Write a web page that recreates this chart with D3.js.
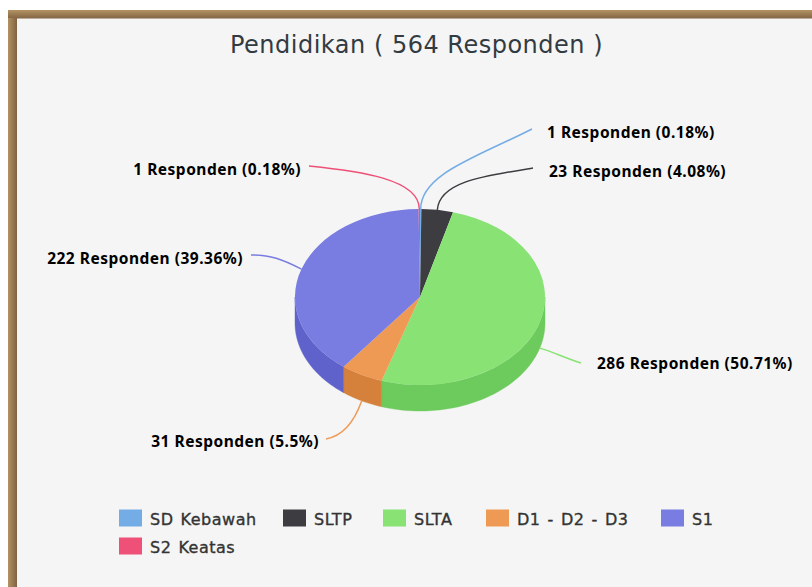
<!DOCTYPE html>
<html><head><meta charset="utf-8">
<script src="https://cdnjs.cloudflare.com/ajax/libs/d3/7.8.5/d3.min.js"></script>
<style>html,body{margin:0;padding:0;background:#fff;overflow:hidden}svg{display:block}</style>
</head><body><svg id="c" width="812" height="587"></svg>
<script>
const categories=["SD Kebawah","SLTP","SLTA","D1 - D2 - D3","S1","S2 Keatas"];
const values=[1,23,286,31,222,1];
const percents=["0.18","4.08","50.71","5.5","39.36","0.18"];
const colors=["#74ace6","#3c3c41","#88e274","#ee9a55","#797ce0","#ee5078"];
const sideColors=["#6a9fd4","#36363a","#6ccb5c","#d5813b","#5f62cb","#d64568"];
const titleText="Pendidikan ( 564 Responden )";
// layout only: label end points and legend cells
const labelLayout=[
 {x:532,y:129,tx:547,ty:138,a:"start",c1:[0,-35],c2:[-55,28]},
 {x:533,y:168,tx:549,ty:177,a:"start",c1:[2,-28],c2:[-50,8]},
 {x:581,y:363,tx:597,ty:369,a:"start",c1:[14,4],c2:[-14,-4]},
 {x:326,y:439,tx:319,ty:447,a:"end",c1:[-10,28],c2:[12,-2]},
 {x:251,y:255,tx:243,ty:264,a:"end",c1:[-20,-10],c2:[20,0]},
 {x:309,y:166,tx:301,ty:175,a:"end",c1:[0,-30],c2:[50,5]}
];
const legendLayout=[[119,509],[283,509],[383,509],[486,509],[661,509],[119,537]];
const cx=420,cy=297,rx=125,ry=88,depth=26;

const svg=d3.select("#c");
const defs=svg.append("defs");
const g=defs.append("linearGradient").attr("id","lg");
g.append("stop").attr("offset","0").attr("stop-color","#b39362");
g.append("stop").attr("offset","1").attr("stop-color","#7f6242");
const gt=defs.append("linearGradient").attr("id","tg").attr("x1",0).attr("x2",0).attr("y1",0).attr("y2",1);
gt.append("stop").attr("offset","0").attr("stop-color","#b39362");
gt.append("stop").attr("offset","1").attr("stop-color","#7f6242");

svg.append("rect").attr("x",8).attr("y",10).attr("width",804).attr("height",9).attr("fill","url(#tg)");
svg.append("rect").attr("x",8).attr("y",18).attr("width",9).attr("height",569).attr("fill","url(#lg)");
svg.append("rect").attr("x",17).attr("y",18.5).attr("width",795).attr("height",569).attr("fill","#f5f5f5");

svg.append("text").attr("x",416.5).attr("y",53).attr("text-anchor","middle")
 .attr("font-family","'DejaVu Sans'").attr("font-size",24).attr("letter-spacing",0.5).attr("fill","#333b42").text(titleText);

const arcs=d3.pie().sort(null).value(d=>d)(values);
const sx=a=>cx+rx*Math.sin(a), sy=a=>cy-ry*Math.cos(a);

const lo=Math.PI/2, hi=3*Math.PI/2;
arcs.forEach((d,i)=>{
  const a0=Math.max(d.startAngle,lo), a1=Math.min(d.endAngle,hi);
  if(a1<=a0) return;
  const n=48, ts=d3.range(n+1).map(k=>a0+(a1-a0)*k/n);
  const pts=ts.map(t=>[sx(t),sy(t)]).concat(ts.slice().reverse().map(t=>[sx(t),sy(t)+depth]));
  svg.append("path").attr("d",d3.line()(pts)+"Z").attr("fill",sideColors[i]).attr("stroke",sideColors[i]).attr("stroke-width",.4);
});
const arc=d3.arc().innerRadius(0).outerRadius(rx);
svg.append("g").attr("transform",`translate(${cx},${cy}) scale(1,${ry/rx})`)
 .selectAll("path").data(arcs).join("path").attr("d",arc).attr("fill",(d,i)=>colors[i]);

arcs.forEach((d,i)=>{
  const m=(d.startAngle+d.endAngle)/2, L=labelLayout[i];
  const x0=sx(m), y0=sy(m)+(Math.cos(m)<-0.05&&m>lo&&m<hi?depth:0);
  const p=d3.path(); p.moveTo(x0,y0);
  p.bezierCurveTo(x0+L.c1[0],y0+L.c1[1],L.x+L.c2[0],L.y+L.c2[1],L.x,L.y);
  svg.append("path").attr("d",p.toString()).attr("fill","none").attr("stroke",colors[i]).attr("stroke-width",1.5);
  svg.append("text").attr("x",L.tx).attr("y",L.ty).attr("text-anchor",L.a)
   .attr("font-family","'Noto Sans'").attr("font-size",15.5).attr("font-weight","bold").attr("letter-spacing",0.5).attr("fill","#000")
   .text(`${values[i]} Responden (${percents[i]}%)`);
});

categories.forEach((c,i)=>{
  const [x,y]=legendLayout[i];
  svg.append("rect").attr("x",x).attr("y",y+.5).attr("width",23).attr("height",17).attr("fill",colors[i]);
  svg.append("text").attr("x",x+31).attr("y",y+15.5).attr("font-family","'DejaVu Sans'")
   .attr("font-size",16).attr("letter-spacing",0.5).attr("word-spacing",1.5).attr("stroke","#333").attr("stroke-width",0.35).attr("fill","#333").text(c);
});
</script></body></html>
